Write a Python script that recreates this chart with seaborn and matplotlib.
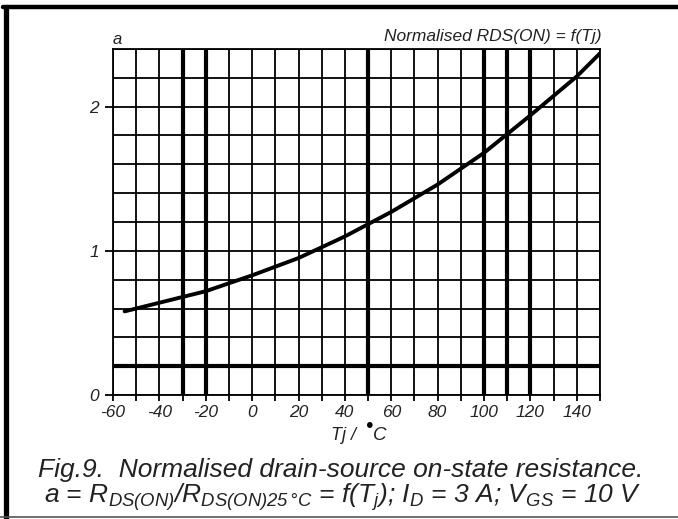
import matplotlib
matplotlib.use("Agg")
import matplotlib.pyplot as plt
from matplotlib.ticker import MultipleLocator
from matplotlib.lines import Line2D
import seaborn as sns
import pandas as pd

# Junction temperature (degC) and normalised on-state resistance a
temp_c = [-55, -40, -20, 0, 20, 40, 60, 80, 100, 120, 140, 150]
a_norm = [0.58, 0.64, 0.72, 0.83, 0.95, 1.10, 1.27, 1.46, 1.68, 1.94, 2.21, 2.37]

x_ticks = [-60, -40, -20, 0, 20, 40, 60, 80, 100, 120, 140]
y_ticks = [0, 1, 2]
heavy_x = [-30, -20, 50, 100, 110, 120]
heavy_y = [0.2]

sns.set_theme(style="white")
plt.rcParams["font.family"] = ["Liberation Sans", "DejaVu Sans"]
plt.rcParams["font.style"] = "italic"
plt.rcParams["mathtext.fontset"] = "custom"
plt.rcParams["mathtext.rm"] = "Liberation Sans:italic"
plt.rcParams["mathtext.it"] = "Liberation Sans:italic"
plt.rcParams["mathtext.default"] = "rm"

txt = "#222222"
fig = plt.figure(figsize=(6.78, 5.19), dpi=100)
W, H = 678, 519
ax = fig.add_axes([113 / W, 1 - 395 / H, (600 - 113) / W, (395 - 49) / H])

df = pd.DataFrame({"T": temp_c, "a": a_norm})
sns.lineplot(data=df, x="T", y="a", ax=ax, color="black", lw=2.8, zorder=5)

ax.set_xlim(-60, 150)
ax.set_ylim(0, 2.4)
ax.xaxis.set_major_locator(plt.FixedLocator(x_ticks))
ax.xaxis.set_minor_locator(MultipleLocator(10))
ax.yaxis.set_major_locator(plt.FixedLocator(y_ticks))
ax.yaxis.set_minor_locator(MultipleLocator(0.2))
ax.set_xticklabels([str(v) for v in x_ticks])
ax.set_yticklabels([str(v) for v in y_ticks])

ax.grid(which="both", color="black", lw=1.3)
for xv in heavy_x:
    ax.axvline(xv, color="black", lw=3.0, zorder=3)
for yv in heavy_y:
    ax.axhline(yv, color="black", lw=3.0, zorder=3)

for s in ax.spines.values():
    s.set_color("black")
    s.set_linewidth(1.3)

ax.tick_params(axis="x", which="both", direction="out", length=4, width=1.3,
               color="black", bottom=True, pad=3, labelsize=12.5, labelcolor=txt)
ax.tick_params(axis="y", which="major", direction="out", length=6, width=1.3,
               color="black", left=True, pad=4, labelsize=12.5, labelcolor=txt)
ax.tick_params(axis="y", which="minor", length=0)
for lab in ax.get_xticklabels() + ax.get_yticklabels():
    lab.set_fontstyle("italic")
ax.set_xlabel("")
ax.set_ylabel("")

# labels above the chart area
fig.text(113 / W, 1 - 40 / H, "a", ha="left", va="center", fontsize=12,
         color=txt, style="italic")
fig.text(601 / W, 1 - 37 / H, "Normalised RDS(ON) = f(Tj)", ha="right",
         va="center", fontsize=12.5, color=txt, style="italic")

# x axis title with the heavy degree dot
fig.text(356 / W, 1 - 436 / H, "Tj /", ha="right", va="center", fontsize=13,
         color=txt, style="italic")
fig.text(369 / W, 1 - 427 / H, "\u2022", ha="center", va="center", fontsize=15,
         color="black")
fig.text(373 / W, 1 - 436 / H, "C", ha="left", va="center", fontsize=13.5,
         color=txt, style="italic")

# caption
fig.text(341 / W, 1 - 470 / H,
         "Fig.9.  Normalised drain-source on-state resistance.",
         ha="center", va="center", fontsize=19, color=txt, style="italic")
fig.text(343 / W, 1 - 497 / H,
         r"a = R$_{DS(ON)}$/R$_{DS(ON)25\,°C}$ = f(T$_j$); I$_D$ = 3 A; V$_{GS}$ = 10 V",
         ha="center", va="center", fontsize=19, color=txt, style="italic")

# page frame
fig.add_artist(Line2D([3 / W, 1], [1 - 7 / H, 1 - 7 / H], color="black", lw=3.2,
                      transform=fig.transFigure))
fig.add_artist(Line2D([5.5 / W, 5.5 / W], [0, 1 - 7 / H], color="black", lw=3.8,
                      transform=fig.transFigure))
fig.add_artist(Line2D([0, 1], [1 - 517 / H, 1 - 517 / H], color="#555555", lw=1.2,
                      transform=fig.transFigure))

fig.savefig("out.png", dpi=100)
